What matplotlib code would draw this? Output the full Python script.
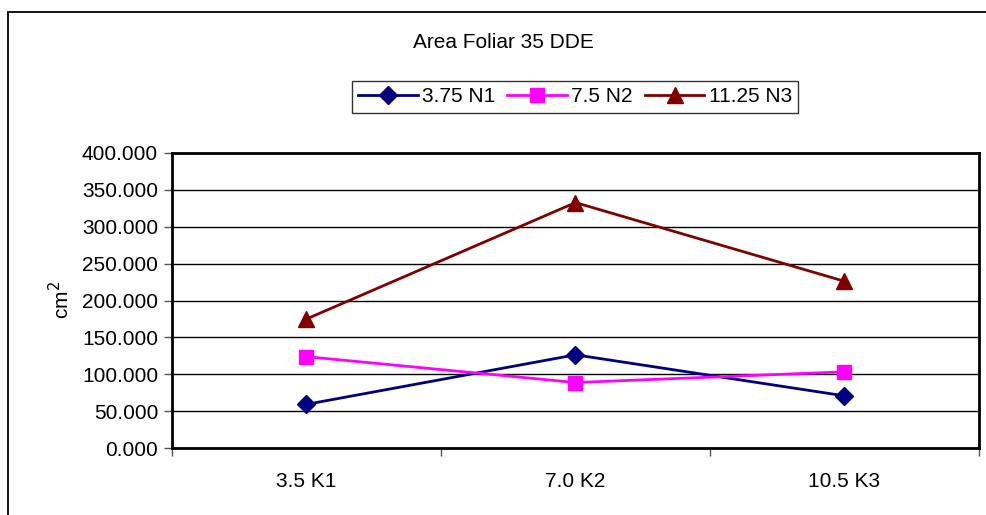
import matplotlib
matplotlib.use("Agg")
import matplotlib.pyplot as plt
from matplotlib.patches import Rectangle
from matplotlib.lines import Line2D

categories = ["3.5 K1", "7.0 K2", "10.5 K3"]
series_names = ["3.75 N1", "7.5 N2", "11.25 N3"]
n1_values = [59.5, 126.5, 71.0]
n2_values = [124.0, 89.0, 103.5]
n3_values = [175.0, 332.5, 226.0]
y_ticks = [0, 50, 100, 150, 200, 250, 300, 350, 400]

plt.rcParams["font.family"] = ["Liberation Sans", "DejaVu Sans"]
FS = 15

fig = plt.figure(figsize=(9.87, 5.15), dpi=100)
fig.patch.set_facecolor("white")

# outer chart frame
fig.add_artist(Rectangle((8 / 987, -0.05), 1.1, (515 - 12) / 515 + 0.05,
                         transform=fig.transFigure, fill=False,
                         edgecolor="black", linewidth=1.3, clip_on=False))

ax = fig.add_axes([172 / 987, 1 - 448.3 / 515, (979 - 172) / 987, (448.3 - 152.7) / 515])

styles = [
    dict(color="#000080", marker="D", markersize=9.5),
    dict(color="#FF00FF", marker="s", markersize=10),
    dict(color="#800000", marker="^", markersize=11),
]
x = list(range(len(categories)))
for vals, name, st in zip([n1_values, n2_values, n3_values], series_names, styles):
    ax.plot(x, vals, color=st["color"], linewidth=2, marker=st["marker"],
            markersize=st["markersize"], markerfacecolor=st["color"],
            markeredgecolor=st["color"], label=name, clip_on=False, zorder=3)

ax.set_xlim(-0.5, 2.5)
ax.set_ylim(0, 400)
ax.set_yticks(y_ticks)
ax.set_yticklabels([f"{v:.3f}" for v in y_ticks])
ax.set_xticks(x)
ax.set_xticklabels(categories)
ax.set_xticks([-0.5, 0.5, 1.5, 2.5], minor=True)
ax.tick_params(axis="x", which="major", length=0, pad=17, labelsize=FS)
ax.tick_params(axis="x", which="minor", length=6, width=1, color="#555555", direction="out")
ax.tick_params(axis="y", length=6, width=1, color="#555555", direction="out", pad=4, labelsize=FS)

ax.yaxis.grid(True, color="black", linewidth=1)
ax.set_axisbelow(True)
for sp in ax.spines.values():
    sp.set_linewidth(2)
    sp.set_color("black")

ax.set_ylabel("cm$^2$", fontsize=FS, labelpad=6)

fig.text(503 / 987, 1 - 42 / 515, "Area Foliar 35 DDE", ha="center", va="center", fontsize=FS)

handles = [Line2D([0], [0], color=st["color"], linewidth=2, marker=st["marker"],
                  markersize=st["markersize"], markerfacecolor=st["color"],
                  markeredgecolor=st["color"]) for st in styles]
leg = fig.legend(handles, series_names, loc="center", bbox_to_anchor=(575 / 987, 1 - 97 / 515),
                 ncol=3, frameon=True, fancybox=False, fontsize=FS, handlelength=2.85,
                 handletextpad=0.2, columnspacing=0.6, borderpad=0.3, borderaxespad=0)
leg.get_frame().set_edgecolor("black")
leg.get_frame().set_linewidth(1)

fig.savefig("out.png", dpi=100, facecolor="white")
